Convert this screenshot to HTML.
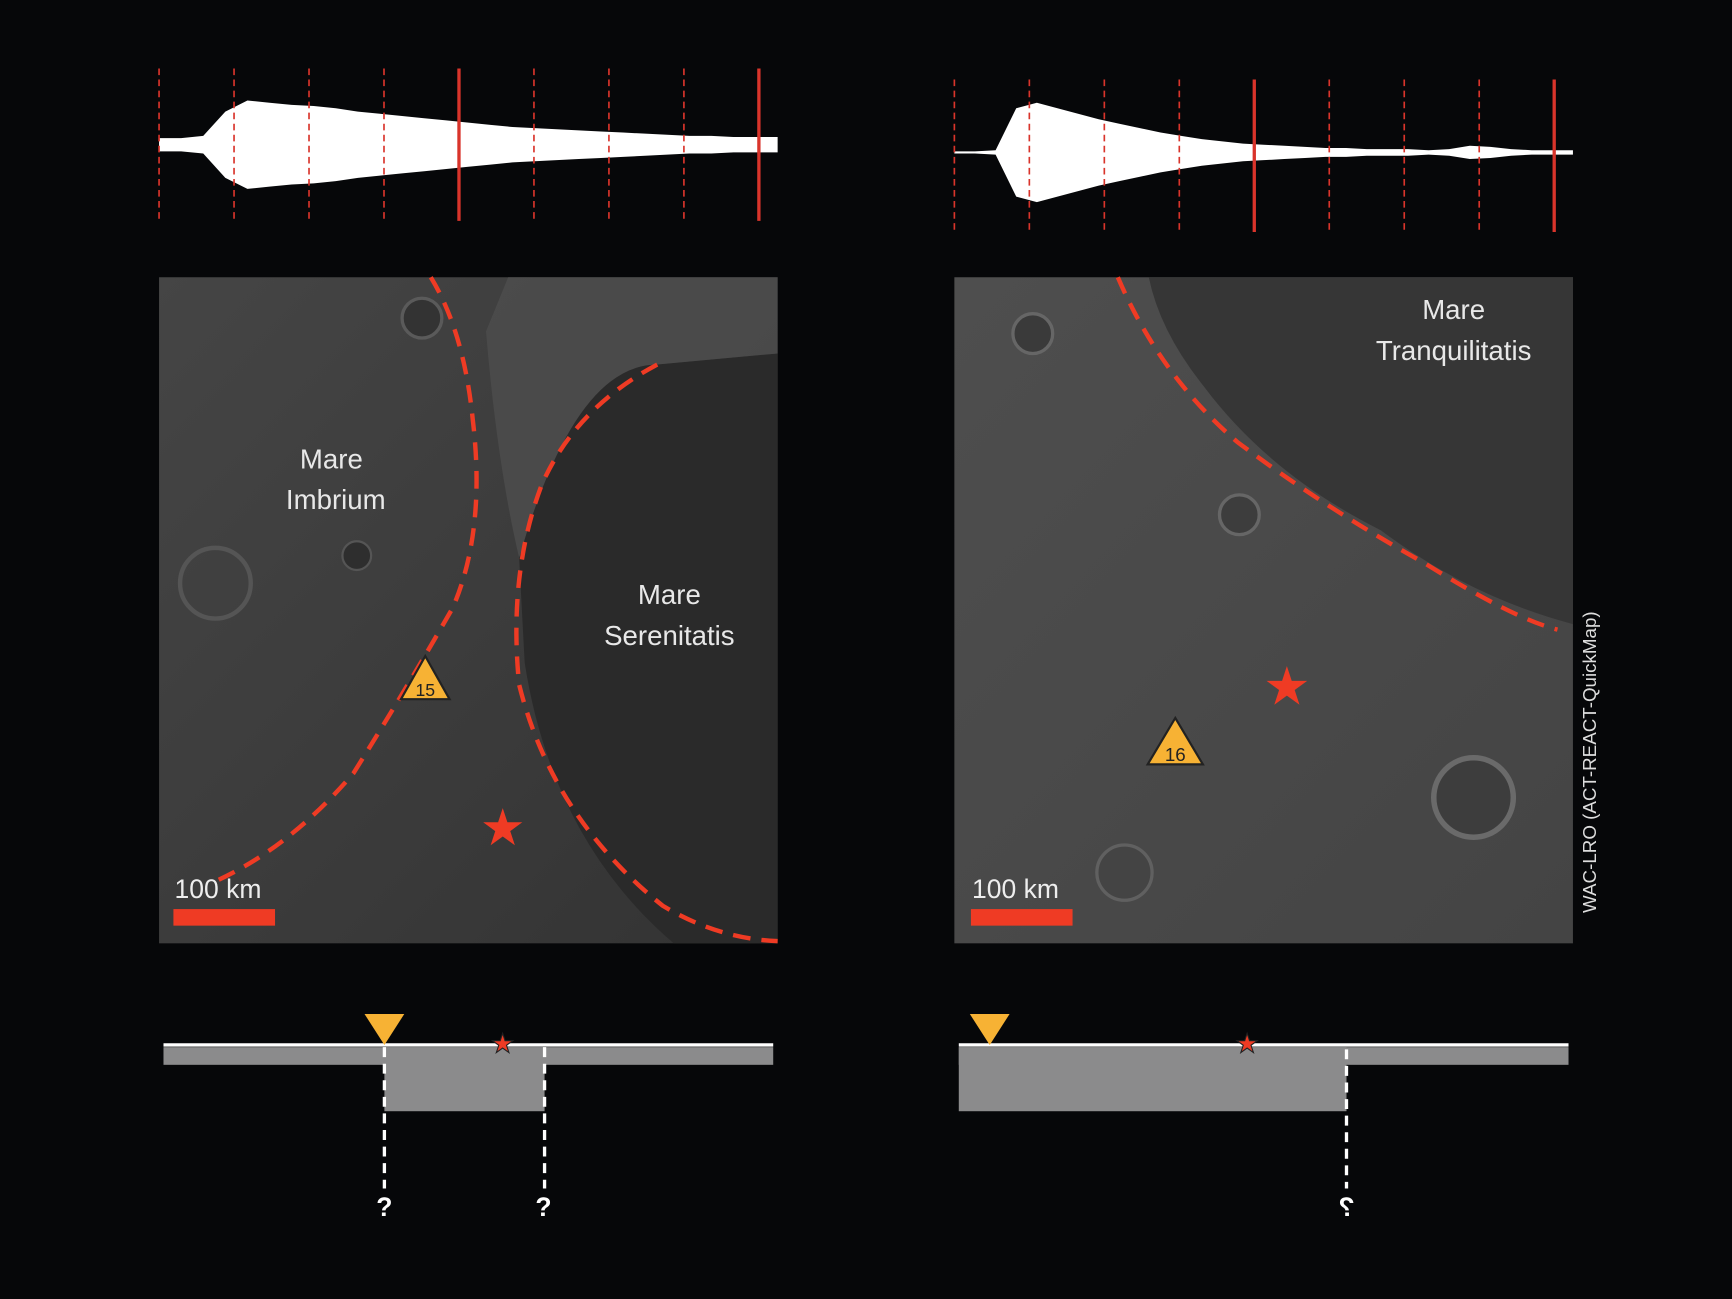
<!DOCTYPE html>
<html><head><meta charset="utf-8"><style>
html,body{margin:0;padding:0;background:#060709;}
svg{display:block;}
text{font-family:"Liberation Sans",sans-serif;}
</style></head><body>
<svg width="1732" height="1299" viewBox="0 0 1568 1176">
<defs>
<linearGradient id="gl" x1="0" y1="0" x2="1" y2="1"><stop offset="0" stop-color="#454545"/><stop offset="1" stop-color="#333"/></linearGradient>
<linearGradient id="gr" x1="0" y1="0" x2="1" y2="1"><stop offset="0" stop-color="#4e4e4e"/><stop offset="1" stop-color="#444"/></linearGradient>
</defs>
<rect width="1568" height="1176" fill="#060709"/>
<g id="seis">
<polygon fill="#fff" points="144,125 164,125 184,123 204,101 224,91 244,93 264,95 284,96 304,98 324,101 344,103 364,105 384,107 404,109 424,111 444,113 464,115 484,116 504,117 524,118 544,119 564,120 584,121 604,122 624,123 644,123 664,124 684,124 704,124 704,138 684,138 664,138 644,139 624,139 604,140 584,141 564,142 544,143 524,144 504,145 484,146 464,147 444,149 424,151 404,153 384,155 364,157 344,159 324,161 304,164 284,166 264,167 244,169 224,171 204,161 184,139 164,137 144,137"/>
<polygon fill="#fff" points="864,137 882.7,137 901.3,136 920,98 938.7,93 957.3,98 976,103 994.7,108 1013.3,112 1032,116 1050.7,120 1069.3,123 1088,126 1106.7,128 1125.3,130 1144,131 1162.7,132 1181.3,133 1200,134 1218.7,134 1237.3,135 1256,135 1274.7,135 1293.3,136 1312,135 1330.7,132 1349.3,133 1368,135 1386.7,136 1405.3,136 1424,136 1424,140 1405.3,140 1386.7,140 1368,141 1349.3,143 1330.7,144 1312,141 1293.3,140 1274.7,141 1256,141 1237.3,141 1218.7,142 1200,142 1181.3,143 1162.7,144 1144,145 1125.3,146 1106.7,148 1088,150 1069.3,153 1050.7,156 1032,160 1013.3,164 994.7,168 976,173 957.3,178 938.7,183 920,178 901.3,140 882.7,139 864,139"/>
<g stroke="#d9342b">
<line x1="144" x2="144" y1="62" y2="200" stroke-width="1.5" stroke-dasharray="6 4"/>
<line x1="211.9" x2="211.9" y1="62" y2="200" stroke-width="1.5" stroke-dasharray="6 4"/>
<line x1="279.8" x2="279.8" y1="62" y2="200" stroke-width="1.5" stroke-dasharray="6 4"/>
<line x1="347.6" x2="347.6" y1="62" y2="200" stroke-width="1.5" stroke-dasharray="6 4"/>
<line x1="415.5" x2="415.5" y1="62" y2="200" stroke-width="3"/>
<line x1="483.4" x2="483.4" y1="62" y2="200" stroke-width="1.5" stroke-dasharray="6 4"/>
<line x1="551.3" x2="551.3" y1="62" y2="200" stroke-width="1.5" stroke-dasharray="6 4"/>
<line x1="619.2" x2="619.2" y1="62" y2="200" stroke-width="1.5" stroke-dasharray="6 4"/>
<line x1="687" x2="687" y1="62" y2="200" stroke-width="3"/>
<line x1="864" x2="864" y1="72" y2="210" stroke-width="1.5" stroke-dasharray="6 4"/>
<line x1="931.9" x2="931.9" y1="72" y2="210" stroke-width="1.5" stroke-dasharray="6 4"/>
<line x1="999.8" x2="999.8" y1="72" y2="210" stroke-width="1.5" stroke-dasharray="6 4"/>
<line x1="1067.6" x2="1067.6" y1="72" y2="210" stroke-width="1.5" stroke-dasharray="6 4"/>
<line x1="1135.5" x2="1135.5" y1="72" y2="210" stroke-width="3"/>
<line x1="1203.4" x2="1203.4" y1="72" y2="210" stroke-width="1.5" stroke-dasharray="6 4"/>
<line x1="1271.3" x2="1271.3" y1="72" y2="210" stroke-width="1.5" stroke-dasharray="6 4"/>
<line x1="1339.2" x2="1339.2" y1="72" y2="210" stroke-width="1.5" stroke-dasharray="6 4"/>
<line x1="1407" x2="1407" y1="72" y2="210" stroke-width="3"/>
</g>
</g>
<!-- Left map -->
<g>
<rect x="144" y="251" width="560" height="603" fill="url(#gl)"/>
<path d="M470 505 Q520 330 595 330 L704 320 L704 854 L610 854 Q500 760 475 600 Z" fill="#2a2a2a"/>
<path d="M460 251 L704 251 L704 320 L595 330 Q520 330 470 505 Q450 420 440 300 Z" fill="#4d4d4d" opacity="0.8"/>
<circle cx="195" cy="528" r="32" fill="none" stroke="#555" stroke-width="4"/>
<circle cx="323" cy="503" r="13" fill="#2e2e2e" stroke="#555" stroke-width="2"/>
<circle cx="382" cy="288" r="18" fill="#333" stroke="#5a5a5a" stroke-width="3"/>
<path d="M390 251 Q420 300 428 380 Q440 480 410 550 Q370 620 320 700 Q260 770 190 800" fill="none" stroke="#ef3b24" stroke-width="4" stroke-dasharray="16 10"/>
<path d="M595 330 Q520 370 490 440 Q460 520 470 620 Q500 740 600 820 Q650 850 704 852" fill="none" stroke="#ef3b24" stroke-width="4" stroke-dasharray="16 10"/>
<text x="300" y="424" fill="#e8e8e8" font-size="25" text-anchor="middle">Mare</text>
<text x="304" y="461" fill="#e8e8e8" font-size="25" text-anchor="middle">Imbrium</text>
<text x="606" y="547" fill="#e8e8e8" font-size="25" text-anchor="middle">Mare</text>
<text x="606" y="584" fill="#e8e8e8" font-size="25" text-anchor="middle">Serenitatis</text>
<polygon points="385,594 407,633 363,633" fill="#f7b234" stroke="#222" stroke-width="2"/>
<text x="385" y="630" fill="#222" font-size="16" text-anchor="middle">15</text>
<text x="455" y="765" fill="#ef3b24" font-size="46" text-anchor="middle">★</text>
<text x="158" y="813" fill="#eee" font-size="24">100 km</text>
<rect x="157" y="823" width="92" height="15" fill="#ef3b24"/>
</g>
<!-- Right map -->
<g>
<rect x="864" y="251" width="560" height="603" fill="url(#gr)"/>
<path d="M1040 251 L1424 251 L1424 565 Q1330 540 1250 480 Q1150 430 1090 350 Q1050 300 1040 251 Z" fill="#363636"/>
<circle cx="935" cy="302" r="18" fill="#3a3a3a" stroke="#666" stroke-width="3"/>
<circle cx="1122" cy="466" r="18" fill="#3d3d3d" stroke="#666" stroke-width="3"/>
<circle cx="1334" cy="722" r="36" fill="#3d3d3d" stroke="#6a6a6a" stroke-width="5"/>
<circle cx="1018" cy="790" r="25" fill="#444" stroke="#606060" stroke-width="3"/>
<path d="M1012 251 Q1050 340 1120 400 Q1200 460 1290 510 Q1370 560 1410 570" fill="none" stroke="#ef3b24" stroke-width="4" stroke-dasharray="16 10"/>
<text x="1316" y="289" fill="#e8e8e8" font-size="25" text-anchor="middle">Mare</text>
<text x="1316" y="326" fill="#e8e8e8" font-size="25" text-anchor="middle">Tranquilitatis</text>
<polygon points="1064,650 1089,692 1039,692" fill="#f7b234" stroke="#222" stroke-width="2"/>
<text x="1064" y="689" fill="#222" font-size="17" text-anchor="middle">16</text>
<text x="1165" y="638" fill="#ef3b24" font-size="48" text-anchor="middle">★</text>
<text x="880" y="813" fill="#eee" font-size="24">100 km</text>
<rect x="879" y="823" width="92" height="15" fill="#ef3b24"/>
</g>
<text transform="translate(1445,690) rotate(-90)" fill="#ddd" font-size="17" text-anchor="middle">WAC-LRO (ACT-REACT-QuickMap)</text>
<!-- Bottom diagrams -->
<g>
<rect x="148" y="948" width="552" height="16" fill="#8b8b8c"/>
<rect x="348" y="948" width="145" height="58" fill="#8b8b8c"/>
<line x1="148" y1="946" x2="700" y2="946" stroke="#fff" stroke-width="3"/>
<line x1="348" y1="948" x2="348" y2="1076" stroke="#fff" stroke-width="3" stroke-dasharray="9 6"/>
<line x1="493" y1="948" x2="493" y2="1076" stroke="#fff" stroke-width="3" stroke-dasharray="9 6"/>
<polygon points="330,918 366,918 348,946" fill="#f7b234"/>
<text x="455" y="953" fill="#ef3b24" stroke="#222" stroke-width="1" font-size="24" text-anchor="middle">★</text>
<text x="348" y="1101" fill="#fff" font-size="24" font-weight="bold" text-anchor="middle">?</text>
<text x="492" y="1101" fill="#fff" font-size="24" font-weight="bold" text-anchor="middle">?</text>
</g>
<g>
<rect x="868" y="948" width="552" height="16" fill="#8b8b8c"/>
<rect x="868" y="948" width="351" height="58" fill="#8b8b8c"/>
<line x1="868" y1="946" x2="1420" y2="946" stroke="#fff" stroke-width="3"/>
<line x1="1219" y1="950" x2="1219" y2="1076" stroke="#fff" stroke-width="3" stroke-dasharray="9 6"/>
<polygon points="878,918 914,918 896,946" fill="#f7b234"/>
<text x="1129" y="953" fill="#ef3b24" stroke="#222" stroke-width="1" font-size="24" text-anchor="middle">★</text>
<text x="1219" y="1101" fill="#fff" font-size="24" font-weight="bold" text-anchor="middle" transform="translate(2438,0) scale(-1,1)">?</text>
</g>
</svg>
<script>
var leftEnv=[6,6,8,30,40,38,36,35,33,30,28,26,24,22,20,18,16,15,14,13,12,11,10,9,8,8,7,7,7];
var rightEnv=[1,1,2,40,45,40,35,30,26,22,18,15,12,10,8,7,6,5,4,4,3,3,3,2,3,6,5,3,2,2,2];
var markerSlots=[0,1,2,3,4,5,6,7,8];
var solidIdx=[4,8];
(function(){
try{
var NS="http://www.w3.org/2000/svg";
var g=document.getElementById('seis');
while(g.firstChild)g.removeChild(g.firstChild);
function drawSeis(env,x0,x1,cy,y0,y1,name){
  var n=env.length,pts=[],pb=[];
  for(var i=0;i<n;i++){var x=x0+(x1-x0)*i/(n-1);pts.push(x+','+(cy-env[i]));pb.unshift(x+','+(cy+env[i]));}
  var p=document.createElementNS(NS,'polygon');
  p.setAttribute('points',pts.concat(pb).join(' '));
  p.setAttribute('fill','#fff');
  
  
  g.appendChild(p);
  var step=(x1-x0)/8.25;
  markerSlots.forEach(function(k){
    var l=document.createElementNS(NS,'line');var x=x0+k*step;
    var solid=solidIdx.indexOf(k)>=0;
    l.setAttribute('x1',x);l.setAttribute('x2',x);l.setAttribute('y1',y0);l.setAttribute('y2',y1);
    l.setAttribute('stroke','#d9342b');l.setAttribute('stroke-width',solid?3:1.5);
    if(!solid)l.setAttribute('stroke-dasharray','6 4');
    
    
    g.appendChild(l);
  });
}
drawSeis(leftEnv,144,704,131,62,200,'left-seismogram');
drawSeis(rightEnv,864,1424,138,72,210,'right-seismogram');
}catch(e){}
})();
</script>
</body></html>
